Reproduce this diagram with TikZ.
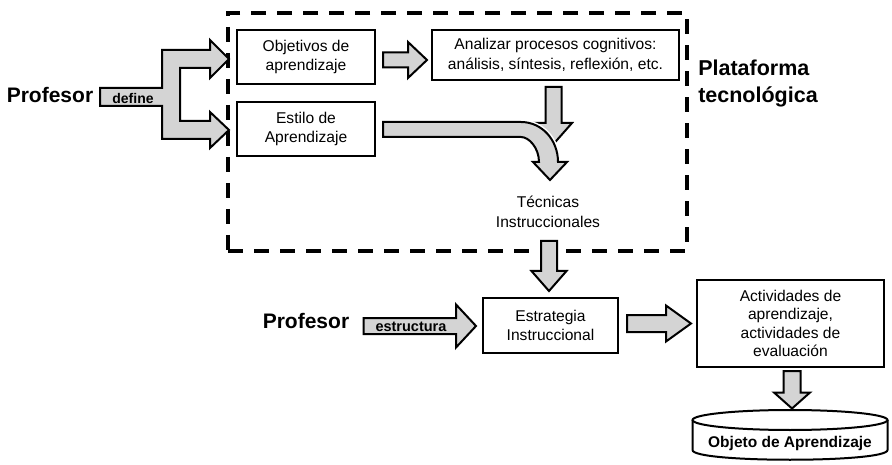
\documentclass[tikz,border=0pt]{standalone}
\usepackage{fontspec}
\setmainfont{Liberation Sans}
\usepackage{tikz}
\usetikzlibrary{calc}
\definecolor{flechagris}{RGB}{212,212,212}

% flecha de bloque: inicio, punta, media banda, media cabeza, largo cabeza
\newcommand{\flechader}[5]{%
\draw[flecha] let \p1=#1, \p2=#2 in (\x1,\y2+#3pt) -- (\x2-#5pt,\y2+#3pt) -- (\x2-#5pt,\y2+#4pt) -- (\p2) -- (\x2-#5pt,\y2-#4pt) -- (\x2-#5pt,\y2-#3pt) -- (\x1,\y2-#3pt) -- cycle;}
\newcommand{\flechaabajo}[5]{%
\draw[flecha] let \p1=#1, \p2=#2 in (\x2-#3pt,\y1) -- (\x2-#3pt,\y2+#5pt) -- (\x2-#4pt,\y2+#5pt) -- (\p2) -- (\x2+#4pt,\y2+#5pt) -- (\x2+#3pt,\y2+#5pt) -- (\x2+#3pt,\y1) -- cycle;}

\begin{document}
\begin{tikzpicture}[
x = 1pt, y = -1pt,
caja/.style={rectangle, align = center, draw, line width = 2pt, inner sep = 0pt,
font = \fontsize{15.6}{19.5}\selectfont},
texto/.style={align = center, font = \fontsize{15.6}{19.5}\selectfont},
negrita/.style={font = \fontsize{21}{26}\selectfont\bfseries},
etiqueta/.style={inner sep = 0pt, font = \fontsize{14}{16}\selectfont\bfseries},
flecha/.style={draw, fill = flechagris, line width = 2pt, line join = miter},
marco/.style={rectangle, draw, line width = 4pt, dash pattern = on 15pt off 11pt}]

\useasboundingbox (0,0) rectangle (892,465);

\node[marco, minimum width = 459pt, minimum height = 238pt] (pt) at (457.5,132) {};

\node[caja, minimum width = 138pt, minimum height = 54pt] (obj) at (306,57) {Objetivos de\\aprendizaje};
\node[caja, minimum width = 138pt, minimum height = 54pt] (est) at (306,129) {Estilo de\\Aprendizaje};
\node[caja, minimum width = 247pt, minimum height = 50pt] (ana) at (555.5,55) {Analizar procesos cognitivos:\\análisis, síntesis, reflexión, etc.};
\node[texto] (tec) at (548,212) {Técnicas\\Instruccionales};
\node[caja, minimum width = 135pt, minimum height = 55pt] (estr) at (550.5,325.5) {Estrategia\\Instruccional};
\node[caja, minimum width = 187pt, minimum height = 87pt, font = \fontsize{15.6}{18.5}\selectfont] (act) at (790.5,323.5) {Actividades de\\aprendizaje,\\actividades de\\evaluación};

\node[negrita] (prof1) at (50,95) {Profesor};
\node[negrita] (prof2) at (306,321) {Profesor};
\node[align = left, font = \fontsize{21.5}{27}\selectfont\bfseries] (plat) at (758,83) {Plataforma\\tecnológica};

% objeto de aprendizaje (cilindro)
\node[font = \fontsize{15.5}{18}\selectfont\bfseries] (oa) at (790,443) {Objeto de Aprendizaje};
\draw[line width = 2pt] (oa.center) ++(0,-23) ellipse [x radius = 97.5, y radius = 10];
\draw[line width = 2pt] (oa.center) ++(-97.5,-23) -- ++(0,30) .. controls +(0,13) and +(0,13) .. ++(195,0) -- ++(0,-30);

% define
\coordinate (d0) at (100,97);
\draw[flecha] let \p1=($(obj.west)+(-7,2)$), \p2=($(est.west)+(-7,1)$), \p3=(d0) in
 (\x3,\y3+9pt) -- (\x1-67pt,\y3+9pt) -- (\x1-67pt,\y1+9pt) -- (\x1-19pt,\y1+9pt) -- (\x1-19pt,\y1+19pt) -- (\p1)
 -- (\x1-19pt,\y1-19pt) -- (\x1-19pt,\y1-9pt) -- (\x1-49pt,\y1-9pt) -- (\x1-49pt,\y2+9pt) -- (\x2-19pt,\y2+9pt)
 -- (\x2-19pt,\y2+18pt) -- (\p2) -- (\x2-19pt,\y2-18pt) -- (\x2-19pt,\y2-9pt) -- (\x1-67pt,\y2-9pt)
 -- (\x1-67pt,\y3-9pt) -- (\x3,\y3-9pt) -- cycle;

\flechader{($(obj.east)+(7,0)$)}{($(ana.west)+(-4,5)$)}{7.5}{18}{19}
\flechaabajo{($(ana.south)+(0,6)$)}{($(ana.south)+(-2,63)$)}{8}{18.5}{21}

% estilo -> tecnicas
\coordinate (c0) at ($(est.east)+(7,1)$);
\draw[flecha, preaction = {draw = white, line width = 5pt}] (c0) ++(0,-8) -- ++(138,0) .. controls +(21,0) and +(0,-22) .. ++(37,40)
 -- ++(9,0) -- ++(-17,18) -- ++(-17,-18) -- ++(6,0) .. controls +(0,-14) and +(8,0) .. ++(-18,-25) -- ++(-138,0) -- cycle;

\flechaabajo{($(estr.north)+(0,-56)$)}{($(estr.north)+(-1.5,-6)$)}{8}{17.5}{20}
\flechader{($(prof2.east)+(11,5)$)}{($(estr.west)+(-6,0.5)$)}{8}{21.5}{20}
\flechader{($(estr.east)+(8,0)$)}{($(act.west)+(-5,0)$)}{8.5}{18}{25}
\flechaabajo{($(act.south)+(0,3)$)}{($(act.south)+(1.5,40.5)$)}{8.5}{18}{16}

\node[etiqueta] (def) at (133,98) {define};
\node[etiqueta, font = \fontsize{14.5}{16}\selectfont\bfseries] (estru) at (411,327) {estructura};

\end{tikzpicture}
\end{document}
